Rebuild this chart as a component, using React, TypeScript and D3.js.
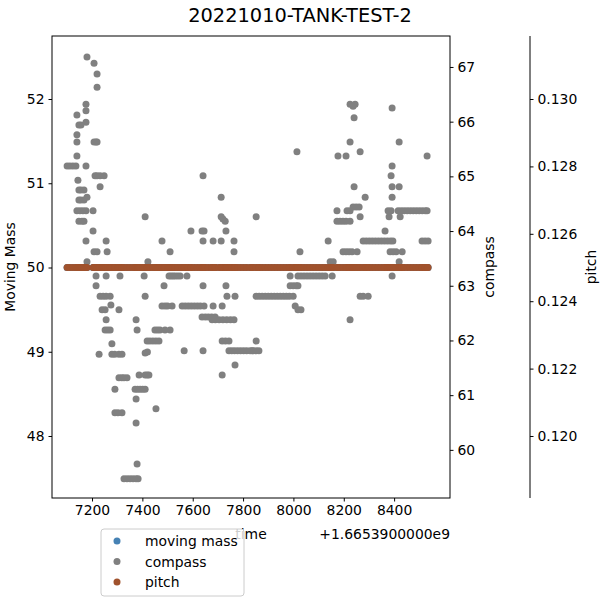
import { useRef, useEffect } from 'react';
import * as d3 from 'd3';

// time offsets are relative to 1.6653900000e9
const compassPoints: [number, number][] = [
  [7180, 67.18], [7208, 67.07], [7220, 66.87], [7220, 66.63], [7176, 66.32], [7176, 66.2], [7140, 66.12],
  [7148, 65.94], [7156, 65.94], [7176, 65.99], [7140, 65.76], [7140, 65.63], [7208, 65.63], [7216, 65.63],
  [7220, 65.63], [7140, 65.37], [7101, 65.19], [7112, 65.19], [7124, 65.19], [7136, 65.19], [7176, 65.19],
  [7212, 65.01], [7220, 65.01], [7232, 65.01], [7248, 65.01], [7641, 65.01], [7144, 64.93], [7232, 64.81],
  [7148, 64.75], [7156, 64.75], [7168, 64.75], [7148, 64.57], [7156, 64.57], [7168, 64.57], [7180, 64.62],
  [7713, 64.62], [7140, 64.37], [7152, 64.37], [7164, 64.37], [7176, 64.37], [7204, 64.37], [7148, 64.18],
  [7160, 64.18], [7168, 64.18], [7411, 64.26], [7713, 64.26], [7720, 64.22], [7729, 64.18], [7204, 64.0],
  [7593, 64.0], [7637, 64.0], [7645, 64.0], [7732, 64.0], [7176, 63.82], [7256, 63.82], [7478, 63.82],
  [7641, 63.82], [7681, 63.82], [7713, 63.82], [7764, 63.82], [7208, 63.62], [7220, 63.62], [7260, 63.62],
  [7510, 63.62], [7764, 63.62], [7180, 63.44], [7422, 63.44],
  [7216, 63.18], [7256, 63.18], [7311, 63.18], [7407, 63.18], [7506, 63.18], [7514, 63.18], [7522, 63.18],
  [7530, 63.18], [7540, 63.18], [7550, 63.18], [7577, 63.18],
  [7216, 63.0], [7486, 63.0], [7641, 63.0], [7732, 63.0],
  [7232, 62.81], [7244, 62.81], [7256, 62.81], [7272, 62.81], [7411, 62.81], [7736, 62.81], [7768, 62.81],
  [7240, 62.56], [7252, 62.56], [7275, 62.65], [7307, 62.56], [7478, 62.63], [7490, 62.63], [7500, 62.63],
  [7518, 62.63], [7558, 62.63], [7570, 62.63], [7582, 62.63], [7594, 62.63], [7606, 62.63], [7618, 62.63],
  [7630, 62.63], [7645, 62.63], [7681, 62.63], [7717, 62.63],
  [7256, 62.38], [7375, 62.38], [7637, 62.43], [7650, 62.43], [7662, 62.43], [7675, 62.43], [7689, 62.43],
  [7677, 62.38], [7690, 62.38], [7705, 62.38], [7720, 62.38], [7735, 62.38], [7750, 62.38], [7764, 62.38],
  [7252, 62.19], [7262, 62.19], [7272, 62.19], [7379, 62.19], [7450, 62.19], [7460, 62.19], [7470, 62.19],
  [7490, 62.19], [7510, 62.19],
  [7279, 61.94], [7419, 61.99], [7430, 61.99], [7442, 61.99], [7454, 61.99], [7466, 61.99], [7717, 61.99],
  [7730, 61.99], [7744, 61.99],
  [7228, 61.75], [7279, 61.75], [7290, 61.75], [7307, 61.75], [7319, 61.75], [7411, 61.77], [7420, 61.79],
  [7566, 61.81], [7641, 61.81], [7744, 61.81], [7755, 61.81], [7766, 61.81], [7778, 61.81], [7790, 61.81],
  [7802, 61.81], [7814, 61.81], [7828, 61.81], [7836, 61.81], [7768, 61.55],
  [7307, 61.32], [7318, 61.32], [7327, 61.32], [7339, 61.32], [7387, 61.37], [7411, 61.37], [7419, 61.37],
  [7426, 61.37], [7717, 61.37],
  [7291, 61.11], [7371, 61.11], [7381, 61.11], [7391, 61.11], [7401, 61.11], [7411, 61.11], [7375, 60.93],
  [7454, 60.75], [7291, 60.68], [7303, 60.68], [7319, 60.68], [7375, 60.49], [7379, 59.74],
  [7327, 59.47], [7339, 59.47], [7351, 59.47], [7363, 59.47], [7375, 59.47], [7383, 59.47],
  [8225, 66.32], [8237, 66.28], [8245, 66.32], [8392, 66.25], [8241, 66.07],
  [8225, 65.63], [8420, 65.63], [8014, 65.45], [8265, 65.45], [8177, 65.37], [8209, 65.37], [8531, 65.37],
  [8392, 65.19], [8388, 65.01], [8241, 64.81], [8392, 64.81], [8420, 64.81], [8285, 64.62], [8392, 64.62],
  [8173, 64.37], [8213, 64.37], [8225, 64.37], [8237, 64.44], [8249, 64.44], [8261, 64.44], [8376, 64.37],
  [8388, 64.37], [8416, 64.37], [8428, 64.37], [8440, 64.37], [8452, 64.37], [8464, 64.37], [8476, 64.37],
  [8488, 64.37], [8500, 64.37], [8512, 64.37], [8524, 64.37], [8531, 64.37],
  [7852, 64.26], [8173, 64.18], [8185, 64.18], [8197, 64.18], [8209, 64.18], [8225, 64.18], [8265, 64.26],
  [8380, 64.26], [8424, 64.26], [8364, 64.0],
  [8138, 63.82], [8277, 63.82], [8289, 63.82], [8301, 63.82], [8313, 63.82], [8325, 63.82], [8337, 63.82],
  [8349, 63.82], [8361, 63.82], [8373, 63.82], [8385, 63.82], [8395, 63.82], [8511, 63.82], [8523, 63.82],
  [8535, 63.82],
  [8026, 63.62], [8197, 63.62], [8209, 63.62], [8221, 63.62], [8233, 63.62], [8253, 63.62], [8384, 63.62],
  [8396, 63.62], [8408, 63.62], [8432, 63.62], [8146, 63.44], [8158, 63.44], [8420, 63.44],
  [7987, 63.18], [8018, 63.18], [8030, 63.18], [8042, 63.18], [8054, 63.18], [8066, 63.18], [8078, 63.18],
  [8090, 63.18], [8102, 63.18], [8114, 63.18], [8126, 63.18], [8154, 63.18], [8392, 63.18],
  [7987, 63.0], [7999, 63.0], [8011, 63.0], [8018, 63.0],
  [7852, 62.81], [7864, 62.81], [7876, 62.81], [7888, 62.81], [7900, 62.81], [7912, 62.81], [7924, 62.81],
  [7936, 62.81], [7948, 62.81], [7960, 62.81], [7972, 62.81], [7984, 62.81], [7999, 62.81], [8265, 62.81],
  [8277, 62.81], [8297, 62.81],
  [8007, 62.63], [8018, 62.56], [8030, 62.56], [8225, 62.38], [7852, 61.99], [7840, 61.81], [7852, 61.81],
  [7863, 61.81],
];

const movingMassValue = 50;
const pitchValue = 0.125;
const massTicks = [48, 49, 50, 51, 52];
const compassTicks = [60, 61, 62, 63, 64, 65, 66, 67];
const pitchTicks = [0.12, 0.122, 0.124, 0.126, 0.128, 0.13];
const timeTicks = [7200, 7400, 7600, 7800, 8000, 8200, 8400];
const legendItems = [
  { label: 'moving mass', color: '#4682b4' },
  { label: 'compass', color: '#808080' },
  { label: 'pitch', color: '#a0522d' },
];

export default function App() {
  const ref = useRef<SVGSVGElement>(null);

  useEffect(() => {
    const svg = d3.select(ref.current!);
    svg.selectAll('*').remove();
    const font = 'DejaVu Sans, sans-serif';
    const L = 52, R = 450, T = 36, B = 498;

    const times = Array.from(new Set(compassPoints.map((d) => d[0]))).sort((a, b) => a - b);

    const x = d3.scaleLinear().domain([7041, 8622]).range([L, R]);
    const yMass = d3.scaleLinear().domain([47.264, 52.748]).range([B, T]);
    const yComp = d3.scaleLinear().domain([59.12, 67.566]).range([B, T]);
    const yPitch = d3.scaleLinear().domain([0.11816, 0.13187]).range([B, T]);

    svg.append('text').attr('x', 300).attr('y', 22).attr('text-anchor', 'middle')
      .style('font-family', font).style('font-size', '19.4px').text('20221010-TANK-TEST-2');

    const styleAxis = (g: any) => {
      g.selectAll('text').style('font-family', font).style('font-size', '13.9px').attr('fill', '#000');
      g.selectAll('line').attr('stroke', '#000');
      g.select('.domain').remove();
    };

    svg.append('g').attr('transform', `translate(0,${B})`)
      .call(d3.axisBottom(x).tickValues(timeTicks).tickFormat(d3.format('d')).tickSize(3.5).tickPadding(4))
      .call(styleAxis);
    svg.append('g').attr('transform', `translate(${L},0)`)
      .call(d3.axisLeft(yMass).tickValues(massTicks).tickFormat(d3.format('d')).tickSize(3.5).tickPadding(4))
      .call(styleAxis);
    svg.append('g').attr('transform', `translate(${R},0)`)
      .call(d3.axisRight(yComp).tickValues(compassTicks).tickFormat(d3.format('d')).tickSize(3.5).tickPadding(4))
      .call(styleAxis);
    svg.append('g').attr('transform', `translate(530,0)`)
      .call(d3.axisRight(yPitch).tickValues(pitchTicks).tickFormat(d3.format('.3f')).tickSize(3.5).tickPadding(4))
      .call(styleAxis);
    svg.append('line').attr('x1', 530).attr('x2', 530).attr('y1', T).attr('y2', B).attr('stroke', '#000');

    const plot = svg.append('g');
    plot.selectAll('.mm').data(times).enter().append('circle')
      .attr('cx', (d) => x(d)).attr('cy', yMass(movingMassValue)).attr('r', 3.5).attr('fill', '#4682b4');
    plot.selectAll('.cp').data(compassPoints).enter().append('circle')
      .attr('cx', (d) => x(d[0])).attr('cy', (d) => yComp(d[1])).attr('r', 3.5).attr('fill', '#808080');
    plot.selectAll('.pt').data(times).enter().append('circle')
      .attr('cx', (d) => x(d)).attr('cy', yPitch(pitchValue)).attr('r', 3.5).attr('fill', '#a0522d');

    svg.append('rect').attr('x', L).attr('y', T).attr('width', R - L).attr('height', B - T)
      .attr('fill', 'none').attr('stroke', '#000');

    const lab = (t: string, xx: number, yy: number, rot = 0, anchor = 'middle') =>
      svg.append('text').attr('transform', `translate(${xx},${yy}) rotate(${rot})`).attr('text-anchor', anchor)
        .style('font-family', font).style('font-size', '13.9px').text(t);
    lab('Moving Mass', 15, 267, -90);
    lab('compass', 494, 267, -90);
    lab('pitch', 596, 267, -90);
    lab('time', 251, 539);
    lab('+1.6653900000e9', 450, 539, 0, 'end');

    const lg = svg.append('g').attr('transform', 'translate(101,529)');
    lg.append('rect').attr('width', 143).attr('height', 67).attr('rx', 3)
      .attr('fill', 'rgba(255,255,255,0.8)').attr('stroke', '#ccc');
    legendItems.forEach((it, i) => {
      lg.append('circle').attr('cx', 16).attr('cy', 12 + i * 20.5).attr('r', 3.5).attr('fill', it.color);
      lg.append('text').attr('x', 44).attr('y', 17 + i * 20.5)
        .style('font-family', font).style('font-size', '13.9px').text(it.label);
    });
  }, []);

  return <svg ref={ref} width={600} height={600} style={{ position: 'absolute', left: 0, top: 0, background: '#fff' }} />;
}
